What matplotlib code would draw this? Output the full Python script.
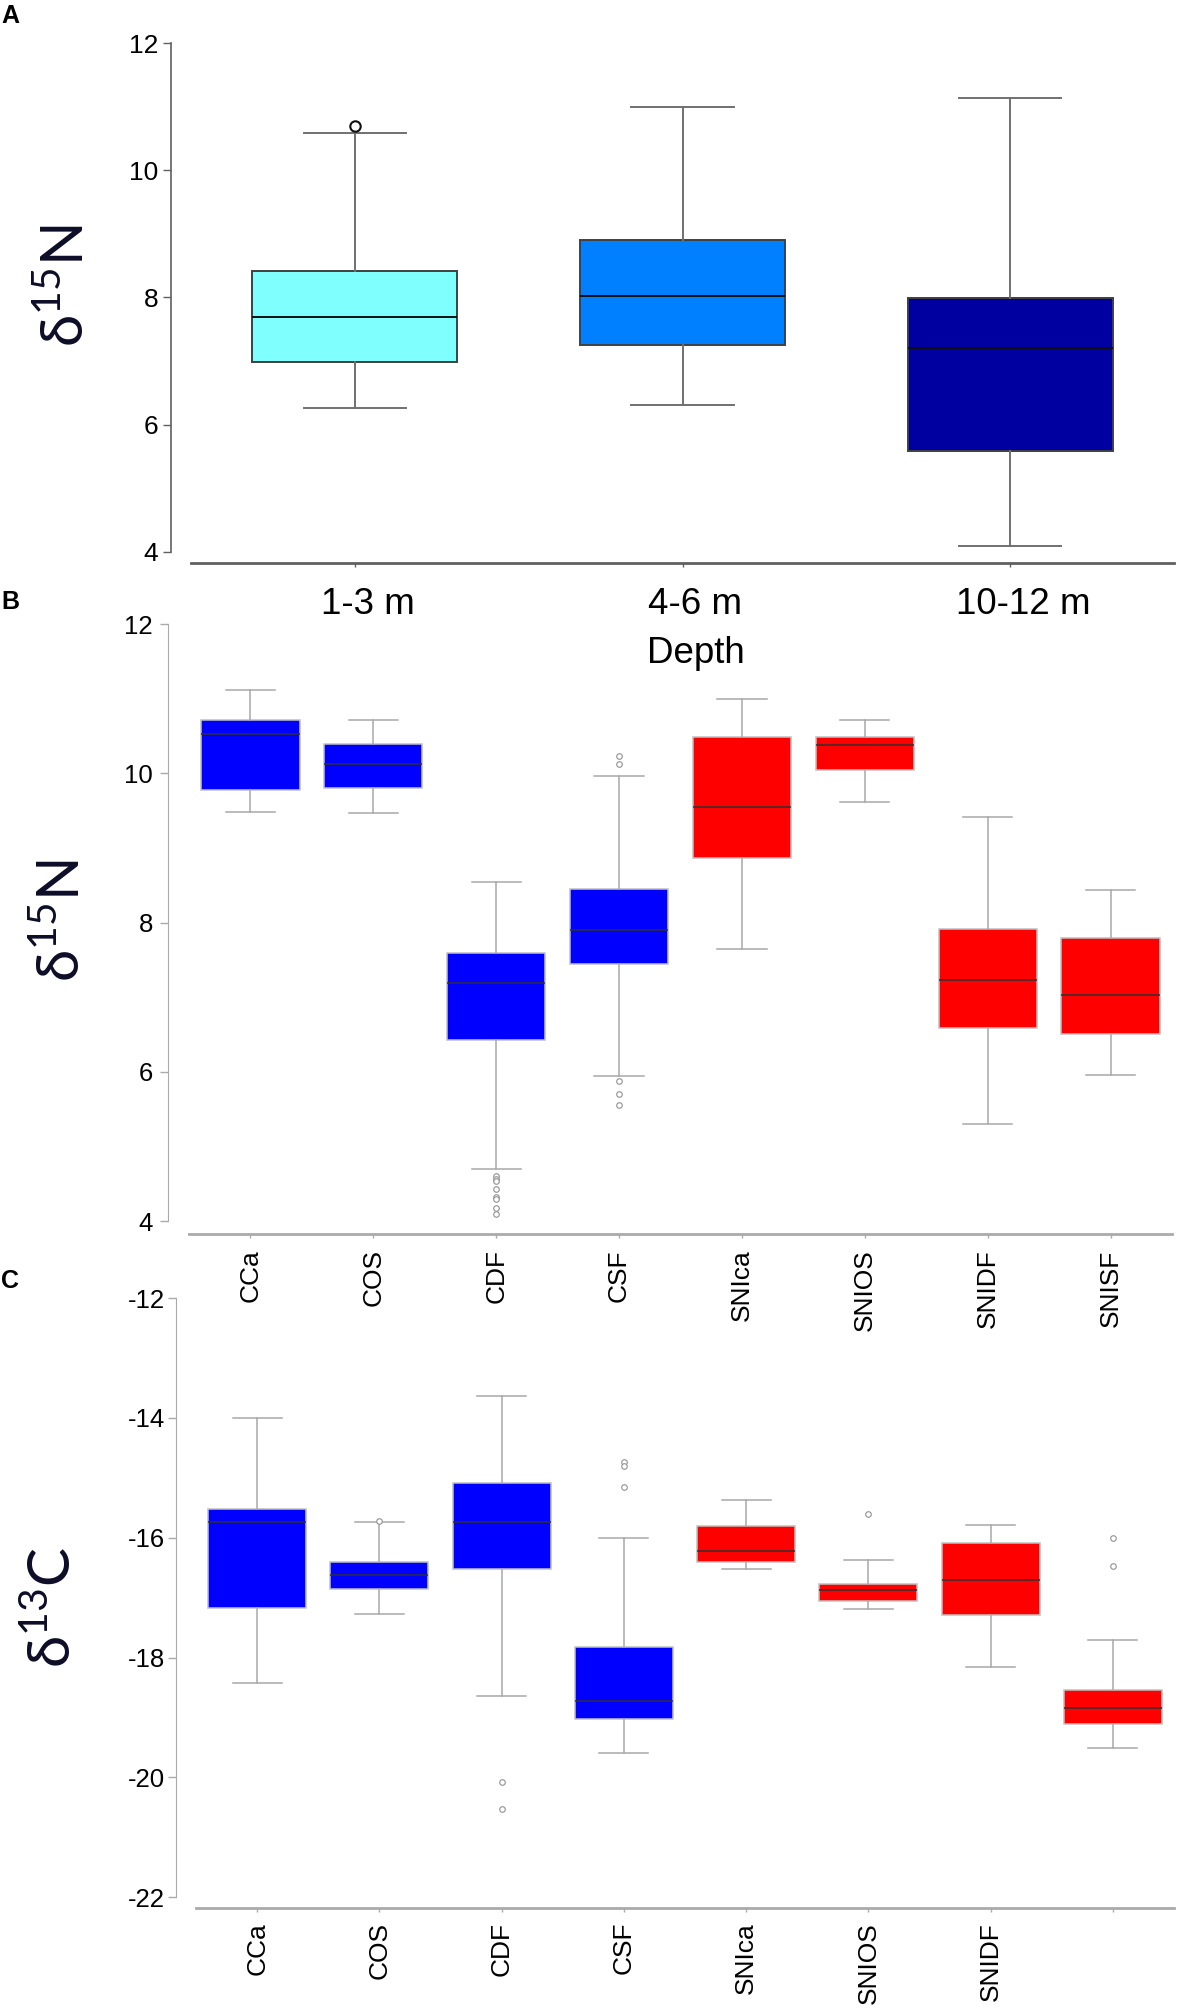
import matplotlib
matplotlib.use('Agg')
import matplotlib.pyplot as plt
from matplotlib.transforms import ScaledTranslation

plt.rcParams['font.family'] = ['Liberation Sans', 'DejaVu Sans']
plt.rcParams['axes.unicode_minus'] = False

# panel A: d15N by depth
depth = ['1-3 m', '4-6 m', '10-12 m']
a_med = [7.69, 8.02, 7.21]
a_q1 = [6.98, 7.26, 5.59]
a_q3 = [8.42, 8.91, 7.99]
a_lo = [6.26, 6.31, 4.09]
a_hi = [10.59, 10.99, 11.14]
a_out = [[10.70], [], []]
a_col = ['#80ffff', '#0080ff', '#0000a0']

# panel B: d15N by site/habitat
sites = ['CCa', 'COS', 'CDF', 'CSF', 'SNIca', 'SNIOS', 'SNIDF', 'SNISF']
b_med = [10.53, 10.12, 7.19, 7.90, 9.55, 10.38, 7.23, 7.03]
b_q1 = [9.78, 9.80, 6.43, 7.44, 8.86, 10.05, 6.59, 6.51]
b_q3 = [10.72, 10.39, 7.59, 8.45, 10.49, 10.48, 7.91, 7.79]
b_lo = [9.48, 9.47, 4.70, 5.94, 7.64, 9.62, 5.30, 5.96]
b_hi = [11.12, 10.72, 8.54, 9.96, 10.99, 10.71, 9.42, 8.44]
b_out = [[], [], [4.60, 4.56, 4.53, 4.43, 4.32, 4.29, 4.18, 4.09],
         [10.23, 10.12, 5.87, 5.70, 5.55], [], [], [], []]

# panel C: d13C by site/habitat (last label missing in original)
c_labels = ['CCa', 'COS', 'CDF', 'CSF', 'SNIca', 'SNIOS', 'SNIDF', '']
c_med = [-15.73, -16.62, -15.73, -18.73, -16.22, -16.88, -16.70, -18.84]
c_q1 = [-17.18, -16.86, -16.52, -19.03, -16.41, -17.05, -17.29, -19.11]
c_q3 = [-15.52, -16.41, -15.08, -17.82, -15.81, -16.77, -16.09, -18.54]
c_lo = [-18.43, -17.27, -18.65, -19.59, -16.53, -17.19, -18.15, -19.51]
c_hi = [-14.0, -15.74, -13.63, -16.0, -15.37, -16.38, -15.79, -17.71]
c_out = [[], [-15.72], [-20.07, -20.52], [-14.74, -14.80, -15.16],
         [], [-15.61], [], [-16.01, -16.48]]

site_col = ['#0000ff'] * 4 + ['#ff0000'] * 4

W, H = 1180, 2009
fig = plt.figure(figsize=(W / 100, H / 100), dpi=100)


def px_axes(l, r, t, b):
    ax = fig.add_axes([l / W, 1 - b / H, (r - l) / W, (b - t) / H])
    ax.patch.set_visible(False)
    return ax


def stats(med, q1, q3, lo, hi, out):
    return [dict(med=m, q1=a, q3=b, whislo=l, whishi=h, fliers=f)
            for m, a, b, l, h, f in zip(med, q1, q3, lo, hi, out)]


def draw(ax, st, colors, w, edge, wcol, mcol, lw, fl):
    bp = ax.bxp(st, positions=range(1, len(st) + 1), widths=w, capwidths=w / 2,
                patch_artist=True,
                boxprops=dict(edgecolor=edge, linewidth=lw),
                medianprops=dict(color=mcol, linewidth=lw),
                whiskerprops=dict(color=wcol, linewidth=lw),
                capprops=dict(color=wcol, linewidth=lw),
                flierprops=fl)
    for patch, c in zip(bp['boxes'], colors):
        patch.set_facecolor(c)
    ax.set_xlim(0.5, len(st) + 0.5)


def axis_style(ax, ylim, yticks, outward, spine_col, ysize, ypad, xsize, xpad):
    ax.set_ylim(*ylim)
    ax.set_yticks(yticks)
    ax.spines['top'].set_visible(False)
    ax.spines['right'].set_visible(False)
    ax.spines['left'].set_position(('outward', outward))
    ax.spines['left'].set_bounds(min(yticks), max(yticks))
    ax.spines['left'].set_color(spine_col)
    ax.spines['bottom'].set_color(spine_col)
    ax.spines['bottom'].set_linewidth(2)
    ax.tick_params(axis='y', length=6, width=1, color=spine_col,
                   labelsize=ysize, pad=ypad)
    ax.tick_params(axis='x', length=3, width=1, color=spine_col,
                   labelsize=xsize, pad=xpad)


# ---- A
axA = px_axes(191, 1174, 43, 563)
draw(axA, stats(a_med, a_q1, a_q3, a_lo, a_hi, a_out), a_col, 0.625,
     '#404040', '#707070', '#101010', 1.4,
     dict(marker='o', markersize=7.5, markerfacecolor='white',
          markeredgecolor='#101010', markeredgewidth=1.5))
axis_style(axA, (3.827, 12), [4, 6, 8, 10, 12], 14.4, '#606060', 19, 3, 26.5, 14)
axA.spines['left'].set_linewidth(1.2)
axA.set_xticks([1, 2, 3])
axA.set_xticklabels(depth)
shift = ScaledTranslation(13 / 100, 0, fig.dpi_scale_trans)
for t in axA.get_xticklabels():
    t.set_transform(t.get_transform() + shift)
fig.text(696 / W, 1 - 653 / H, 'Depth', ha='center', va='center', fontsize=26.5)

# ---- B
fl_small = dict(marker='o', markersize=4, markerfacecolor='white',
                markeredgecolor='#909090', markeredgewidth=0.8)
axB = px_axes(189, 1172, 624, 1234)
draw(axB, stats(b_med, b_q1, b_q3, b_lo, b_hi, b_out), site_col, 0.8,
     '#c0c0c0', '#a8a8a8', '#303030', 1.1, fl_small)
axis_style(axB, (3.826, 12), [4, 6, 8, 10, 12], 15.1, '#aaaaaa', 18.5, 5, 19, 8)
axB.set_xticks(range(1, 9))
axB.set_xticklabels(sites, rotation=90)

# ---- C
axC = px_axes(196, 1174, 1298, 1908)
draw(axC, stats(c_med, c_q1, c_q3, c_lo, c_hi, c_out), site_col, 0.8,
     '#c0c0c0', '#a8a8a8', '#303030', 1.1, fl_small)
axis_style(axC, (-22.18, -12), [-22, -20, -18, -16, -14, -12], 14.4, '#aaaaaa', 18.5, 2, 19, 7)
axC.set_xticks(range(1, 9))
axC.set_xticklabels(c_labels, rotation=90)

# big axis titles and panel letters
lab = dict(rotation=90, ha='center', va='center', fontsize=42,
           family=['Lato', 'DejaVu Sans'], color='#0d0d28')
fig.text(66 / W, 1 - 286 / H, 'δ$^{\\mathregular{15}}$N', **lab)
fig.text(62 / W, 1 - 921 / H, 'δ$^{\\mathregular{15}}$N', **lab)
fig.text(53 / W, 1 - 1607 / H, 'δ$^{\\mathregular{13}}$C', **lab)

for letter, y in [('A', 4), ('B', 590), ('C', 1269)]:
    fig.text(1 / W, 1 - y / H, letter, ha='left', va='top',
             fontsize=18, fontweight='bold')

fig.savefig('out.png', dpi=100)
